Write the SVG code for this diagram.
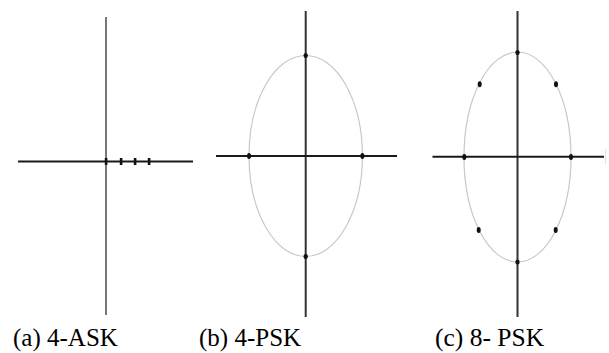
<svg xmlns="http://www.w3.org/2000/svg" width="609" height="353" viewBox="0 0 609 353">
<style>
.ax{stroke:#1a1a1a;stroke-width:2;fill:none}
.axv{stroke:#333;stroke-width:2;fill:none}
.axg{stroke:#777;stroke-width:2;fill:none}
.circ{stroke:#c8c8c8;stroke-width:1.2;fill:none}
.pt{fill:#111}
text{fill:#000}
</style>
<rect width="609" height="353" fill="#fff"/>
<g id="panel-a">
  <line class="axg" x1="106" y1="17" x2="106" y2="315"/>
  <line class="ax" x1="18" y1="161.5" x2="193" y2="161.5"/>
  <rect class="pt" x="104.8" y="158" width="2.6" height="7"/>
  <rect class="pt" x="119.8" y="158" width="2.6" height="7"/>
  <rect class="pt" x="133.8" y="158" width="2.6" height="7"/>
  <rect class="pt" x="147.8" y="158" width="2.6" height="7"/>
  <text font-family="Liberation Serif, DejaVu Serif, serif" font-size="25" x="13" y="346">(a) 4-ASK</text>
</g>
<g id="panel-b">
  <ellipse class="circ" cx="305.7" cy="156" rx="56.7" ry="100.5"/>
  <line class="axv" x1="305.7" y1="11" x2="305.7" y2="317"/>
  <line class="ax" x1="216" y1="156" x2="397" y2="156"/>
  <ellipse class="pt" cx="305.7" cy="55.5" rx="2.2" ry="2.6"/>
  <ellipse class="pt" cx="305.7" cy="256.5" rx="2.2" ry="2.6"/>
  <ellipse class="pt" cx="249" cy="156" rx="2" ry="3"/>
  <ellipse class="pt" cx="362.4" cy="156" rx="2" ry="3"/>
  <text font-family="Liberation Serif, DejaVu Serif, serif" font-size="25" x="199" y="346">(b) 4-PSK</text>
</g>
<g id="panel-c">
  <ellipse class="circ" cx="517.5" cy="157" rx="53.5" ry="105"/>
  <line class="axv" x1="517.5" y1="11" x2="517.5" y2="317"/>
  <line class="ax" x1="432.5" y1="156.8" x2="604" y2="156.8"/>
  <line stroke="#e2e2e2" stroke-width="1" x1="605.5" y1="149" x2="605.5" y2="164"/>
  <ellipse class="pt" cx="517.5" cy="52.5" rx="2.2" ry="2.6"/>
  <ellipse class="pt" cx="517.5" cy="262" rx="2.2" ry="2.6"/>
  <ellipse class="pt" cx="464.3" cy="157" rx="2" ry="3"/>
  <ellipse class="pt" cx="571" cy="157" rx="2" ry="3"/>
  <ellipse class="pt" cx="479.7" cy="84.3" rx="2" ry="3"/>
  <ellipse class="pt" cx="556" cy="84.3" rx="2" ry="3"/>
  <ellipse class="pt" cx="478.7" cy="230" rx="2" ry="3"/>
  <ellipse class="pt" cx="555.7" cy="230" rx="2" ry="3"/>
  <text font-family="Liberation Serif, DejaVu Serif, serif" font-size="25.5" x="435" y="346">(c) 8- PSK</text>
</g>
</svg>
